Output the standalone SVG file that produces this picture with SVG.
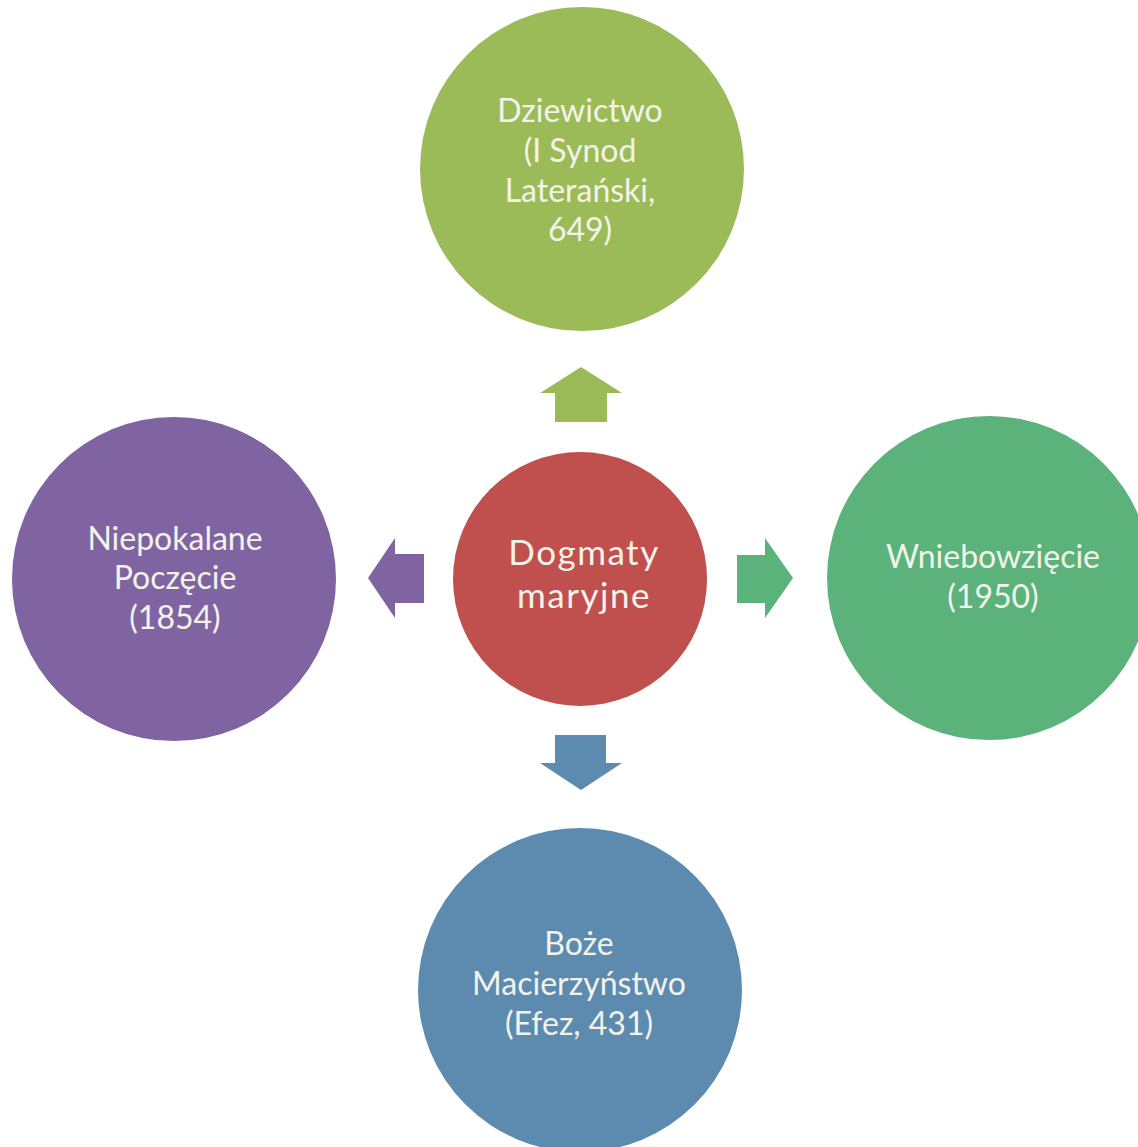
<svg xmlns="http://www.w3.org/2000/svg" width="1138" height="1147" viewBox="0 0 1138 1147">
<style>
text{font-family:Lato,"Open Sans","Noto Sans",sans-serif;text-anchor:middle;fill:#f3f3ea}
.t{font-size:32px}
.c{font-size:35px;letter-spacing:1.5px}
</style>
<rect width="1138" height="1147" fill="#ffffff"/>
<g id="connectors">
<path d="M581,367 L622,393 L607,393 L607,422 L555,422 L555,393 L540,393 Z" fill="#9bbb59"/>
<path d="M581,790 L622,763 L606,763 L606,735 L555,735 L555,763 L540,763 Z" fill="#5d8bb0"/>
<path d="M368,578 L395,538 L395,554 L424,554 L424,603 L395,603 L395,618 Z" fill="#8064a2"/>
<path d="M793,578 L765,538 L765,555 L737,555 L737,603 L765,603 L765,618 Z" fill="#5bb37b"/>
</g>
<g id="center">
<circle cx="580" cy="579" r="127" fill="#c0504d"/>
<text class="c" x="584" y="565">Dogmaty</text>
<text class="c" x="584" y="608">maryjne</text>
</g>
<g id="top">
<circle cx="582" cy="169" r="162" fill="#9bbb59"/>
<text class="t" x="580" y="122">Dziewictwo</text>
<text class="t" x="580" y="162">(I Synod</text>
<text class="t" x="580" y="202">Laterański,</text>
<text class="t" x="580" y="241">649)</text>
</g>
<g id="left">
<circle cx="174" cy="579" r="162" fill="#8064a2"/>
<text class="t" x="175" y="550">Niepokalane</text>
<text class="t" x="175" y="589">Poczęcie</text>
<text class="t" x="175" y="629">(1854)</text>
</g>
<g id="right">
<circle cx="989" cy="578" r="162" fill="#5bb37b"/>
<text class="t" x="993" y="568">Wniebowzięcie</text>
<text class="t" x="993" y="608">(1950)</text>
</g>
<g id="bottom">
<circle cx="580" cy="990" r="162" fill="#5d8bb0"/>
<text class="t" x="579" y="955">Boże</text>
<text class="t" x="579" y="995">Macierzyństwo</text>
<text class="t" x="579" y="1035">(Efez, 431)</text>
</g>
</svg>
